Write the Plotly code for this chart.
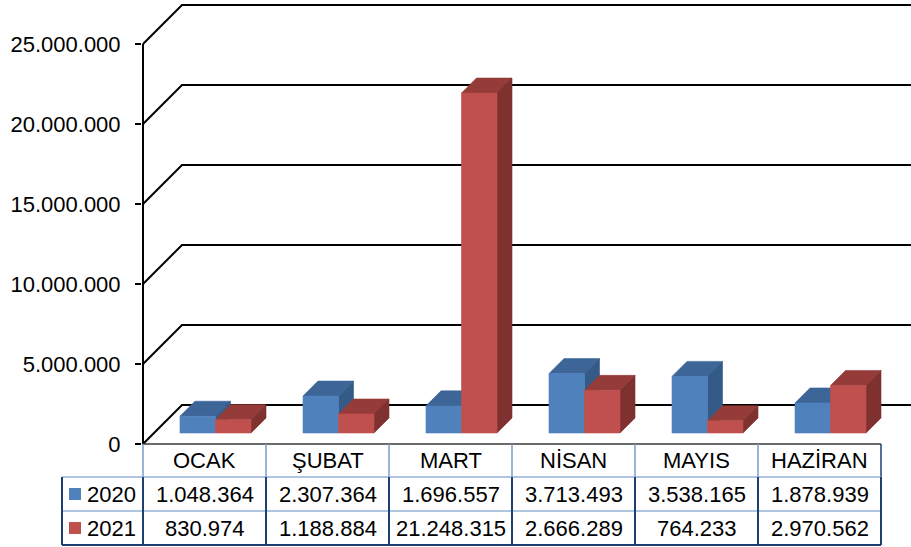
import plotly.graph_objects as go

# ---------------- data ----------------
months = ["OCAK", "ŞUBAT", "MART", "NİSAN", "MAYIS", "HAZİRAN"]
series_names = ["2020", "2021"]
values_2020 = [1048364, 2307364, 1696557, 3713493, 3538165, 1878939]
values_2021 = [830974, 1188884, 21248315, 2666289, 764233, 2970562]
y_ticks = [0, 5000000, 10000000, 15000000, 20000000, 25000000]

# ---------------- style / layout constants ----------------
W, H = 911, 547
ML, MT, MB = 142, 0, 101          # margins (px)
COL_PX = 123.0                    # px per category
VAL_PER_PX = 1e6 / 16.0           # value units per px
KX = 1.0 / COL_PX                 # category units per px
KY = VAL_PER_PX
WALL_DEPTH = 39                   # px
BAR_D0, BAR_D1 = 11, 26           # bar depth range (px)
BAR_W = 35.5 * KX                 # bar width (category units)
PLOT_W = W - ML
PLOT_H = H - MT - MB
X_RANGE = [-1 * KX, (PLOT_W - 1) * KX]
Y_RANGE = [-2 * KY, (PLOT_H - 2) * KY]

FONT = "Liberation Sans, Arial, sans-serif"
FS = 22
colors = {
    "2020": {"front": "#4F81BD", "top": "#3D6597", "side": "#345A88"},
    "2021": {"front": "#C0504D", "top": "#953C3A", "side": "#7E312F"},
}
NAVY = "#1F3F70"
LIGHT = "#95B3D7"
MID = "#7B9CC8"

fig = go.Figure()

# ---------------- back wall & floor grid ----------------
for v in y_ticks:
    fig.add_trace(go.Scatter(
        x=[0, WALL_DEPTH * KX, X_RANGE[1]],
        y=[v, v + WALL_DEPTH * KY, v + WALL_DEPTH * KY],
        mode="lines", line=dict(color="black", width=2),
        hoverinfo="skip", showlegend=False))

# y-axis line (front)
fig.add_trace(go.Scatter(x=[0, 0], y=[0, y_ticks[-1]], mode="lines",
                         line=dict(color="black", width=2),
                         hoverinfo="skip", showlegend=False))

# ---------------- 3D bars ----------------
def poly(xs, ys, color):
    fig.add_trace(go.Scatter(
        x=xs + [xs[0]], y=ys + [ys[0]], mode="lines", fill="toself",
        fillcolor=color, line=dict(color=color, width=0.6),
        hoverinfo="skip", showlegend=False))

d0x, d0y = BAR_D0 * KX, BAR_D0 * KY
d1x, d1y = BAR_D1 * KX, BAR_D1 * KY
for i in range(len(months)):
    c = i + 0.5
    for s, vals, xl in (("2020", values_2020, c - BAR_W), ("2021", values_2021, c)):
        h = vals[i]
        xr = xl + BAR_W
        col = colors[s]
        # top face
        poly([xl + d0x, xr + d0x, xr + d1x, xl + d1x],
             [h + d0y, h + d0y, h + d1y, h + d1y], col["top"])
        # side face
        poly([xr + d0x, xr + d1x, xr + d1x, xr + d0x],
             [d0y, d1y, h + d1y, h + d0y], col["side"])
        # front face
        poly([xl + d0x, xr + d0x, xr + d0x, xl + d0x],
             [d0y, d0y, h + d0y, h + d0y], col["front"])

# front floor edge
fig.add_trace(go.Scatter(x=[0, len(months)], y=[0, 0], mode="lines",
                         line=dict(color="#3A3A3A", width=1.5),
                         hoverinfo="skip", showlegend=False))

# ---------------- data table ----------------
def xp(px):
    return (px - ML) / PLOT_W

def yp(py):
    return (MT + PLOT_H - py) / PLOT_H

def cx(i):  # column boundary px
    return ML + 1 + COL_PX * i

TOP, R1, R2, BOT = 444, 477, 511, 545
LEG_L = 62
shapes = []

def line(x0, y0, x1, y1, color, width):
    shapes.append(dict(type="line", xref="paper", yref="paper",
                       x0=xp(x0), y0=yp(y0), x1=xp(x1), y1=yp(y1),
                       line=dict(color=color, width=width)))

# header verticals
for i in range(len(months) + 1):
    col = NAVY if i == len(months) else MID
    line(cx(i), TOP, cx(i), R1, col, 1.5)
# horizontal inner lines
line(LEG_L, R1, cx(len(months)), R1, LIGHT, 1.5)
line(LEG_L, R2, cx(len(months)), R2, LIGHT, 1.5)
# data-row verticals
for i in range(len(months) + 1):
    line(cx(i), R1, cx(i), BOT, NAVY, 2)
# outer border of legend column and bottom
line(LEG_L, R1, LEG_L, BOT, NAVY, 2)
line(LEG_L, BOT, cx(len(months)), BOT, NAVY, 2)

annotations = []
for i, m in enumerate(months):
    annotations.append(dict(x=i + 0.5, y=yp((TOP + R1) / 2), xref="x", yref="paper",
                            text=m, showarrow=False, xanchor="center", yanchor="middle",
                            font=dict(family=FONT, size=FS, color="black")))
rows = [(values_2020, R1, R2), (values_2021, R2, BOT)]
for k, (vals, a, b) in enumerate(rows):
    ym = yp((a + b) / 2)
    for i, v in enumerate(vals):
        annotations.append(dict(x=i + 0.5, y=ym, xref="x", yref="paper",
                                text=f"{v:,}".replace(",", "."), showarrow=False,
                                xanchor="center", yanchor="middle",
                                font=dict(family=FONT, size=FS, color="black")))
    name = series_names[k]
    annotations.append(dict(x=xp(85), y=ym, xref="paper", yref="paper",
                            text=name, showarrow=False, xanchor="left", yanchor="middle",
                            font=dict(family=FONT, size=FS, color="black")))
    yc = (a + b) / 2
    shapes.append(dict(type="rect", xref="paper", yref="paper",
                       x0=xp(69), x1=xp(81), y0=yp(yc - 6), y1=yp(yc + 6),
                       fillcolor=colors[name]["front"], line=dict(width=0)))

fig.update_layout(
    width=W, height=H,
    margin=dict(l=ML, r=0, t=MT, b=MB, pad=0),
    paper_bgcolor="white", plot_bgcolor="white",
    separators=",.",
    showlegend=False,
    shapes=shapes, annotations=annotations,
    xaxis=dict(range=X_RANGE, showgrid=False, zeroline=False, showline=False,
               showticklabels=False, ticks="", fixedrange=True),
    yaxis=dict(range=Y_RANGE, showgrid=False, zeroline=False, showline=False,
               tickvals=y_ticks, tickformat=",d", ticks="outside", ticklen=6,
               tickwidth=1.5, tickcolor="black", ticklabelstandoff=10,
               tickfont=dict(family=FONT, size=FS, color="black"), fixedrange=True),
)

fig.write_html("out.html", config={"displayModeBar": False},
               post_script="document.body.style.margin='0';document.body.style.overflow='hidden';")
